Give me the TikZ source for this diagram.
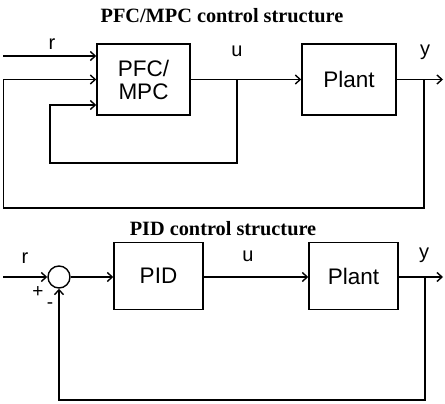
\documentclass[tikz,border=0pt]{standalone}
\usepackage{fontspec}
\setmainfont{Liberation Serif}
\newfontfamily\lsans{Liberation Sans}
\usetikzlibrary{arrows.meta}
\begin{document}
\begin{tikzpicture}[x=1pt,y=-1pt,
  line width=1.4pt,
  blk/.style={draw,rectangle,inner sep=0pt,font=\lsans\fontsize{22.5}{23}\selectfont,align=center},
  lbl/.style={font=\lsans\fontsize{20}{22}\selectfont,inner sep=0pt},
  sgn/.style={font=\lsans\fontsize{19}{20}\selectfont,inner sep=0pt},
  ttl/.style={font=\bfseries\fontsize{20.3}{22}\selectfont,inner sep=0pt},
  arr/.style={-{Straight Barb[length=5pt,width=9pt]}}]
\useasboundingbox (0,0) rectangle (445,404);
% ---------- top ----------
\node[ttl] (t1) at (222,16) {PFC/MPC control structure};
\node[blk,minimum width=93pt,minimum height=71pt] (pfc) at (143.5,79.5) {PFC/\\MPC};
\node[blk,minimum width=94pt,minimum height=71pt] (plant1) at (349,79.5) {Plant};
\coordinate (rin1) at (3,56);
\coordinate (yout1) at (443,79.5);
\coordinate (ub) at (237,79.5);
\coordinate (ud) at (237,163);
\coordinate (ul) at (50,163);
\coordinate (uu) at (50,105);
\coordinate (yb1) at (424,79.5);
\coordinate (yd1) at (424,208);
\coordinate (yl1) at (3.5,208);
\coordinate (yu1) at (3.5,79.5);
\draw[arr] (rin1) -- (pfc.west |- rin1);
\draw[arr] (pfc.east) -- (plant1.west);
\draw[arr] (plant1.east) -- (yout1);
\draw[arr] (ub) -- (ud) -- (ul) -- (uu) -- (pfc.west |- uu);
\draw[arr] (yb1) -- (yd1) -- (yl1) -- (yu1) -- (pfc.west);
\node[lbl] (r1) at (52,44) {r};
\node[lbl] (u1) at (237,51) {u};
\node[lbl] (y1) at (425,52) {y};
% ---------- bottom ----------
\node[ttl] (t2) at (223,229) {PID control structure};
\node[draw,circle,minimum size=22pt,inner sep=0pt] (sum) at (59,277) {};
\node[blk,minimum width=89pt,minimum height=67pt] (pid) at (158.5,276) {PID};
\node[blk,minimum width=89pt,minimum height=67pt] (plant2) at (353.5,276) {Plant};
\coordinate (rin2) at (3,277);
\coordinate (yout2) at (443,277);
\coordinate (yb2) at (425,277);
\coordinate (yd2) at (425,400);
\draw[arr] (rin2) -- (sum.west);
\draw[arr] (sum.east) -- (pid.west |- sum.east);
\draw[arr] (pid.east |- sum.east) -- (plant2.west |- sum.east);
\draw[arr] (plant2.east |- sum.east) -- (yout2);
\draw[arr] (yb2) -- (yd2) -| (sum.south);
\node[lbl] (r2) at (25,258) {r};
\node[lbl] (u2) at (248,256) {u};
\node[lbl] (y2) at (424,255) {y};
\node[sgn] (plus) at (38,292) {+};
\node[sgn] (minus) at (50,306) {-};
\end{tikzpicture}
\end{document}
